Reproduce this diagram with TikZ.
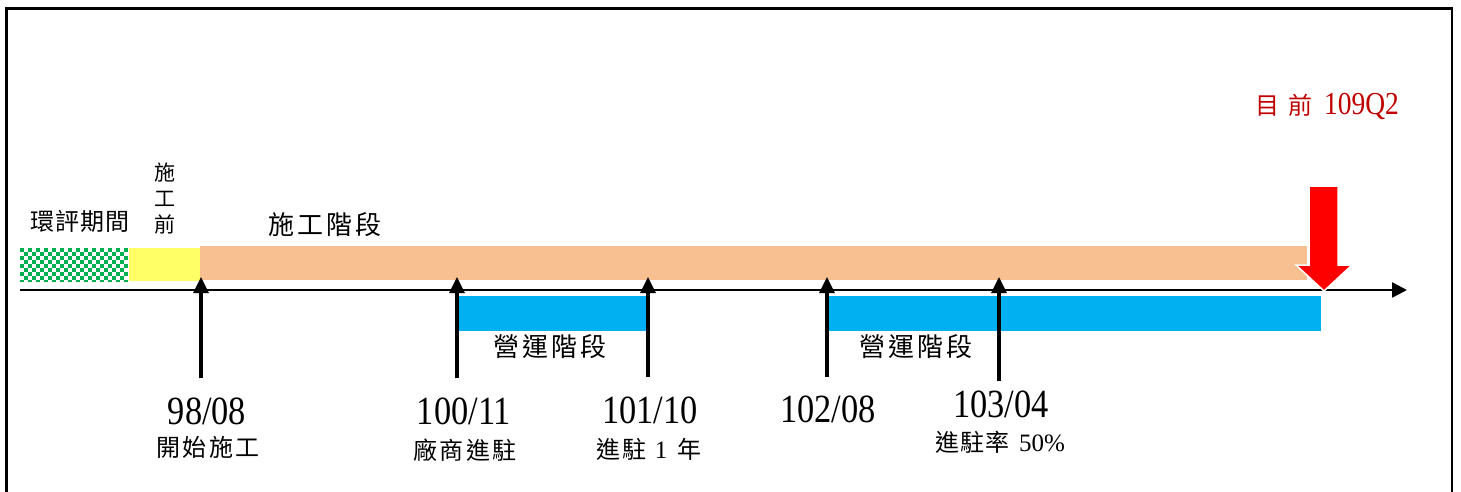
\documentclass[tikz,border=0pt]{standalone}
\usepackage{fontspec}
\setmainfont{Liberation Serif}
\newfontfamily\cjk{Noto Sans CJK TC}
\newfontfamily\datefont[FakeStretch=0.86]{Liberation Serif}
\usetikzlibrary{arrows.meta}
\definecolor{evgreen}{RGB}{0,176,80}
\definecolor{preyellow}{RGB}{255,255,102}
\definecolor{conorange}{RGB}{248,192,144}
\definecolor{opblue}{RGB}{0,176,240}
\definecolor{nowred}{RGB}{192,0,0}
\tikzset{
  lbl/.style={inner sep=0pt, anchor=center},
  datelbl/.style={lbl, font=\datefont\fontsize{40}{44}\selectfont},
  cjklbl/.style={lbl, font=\cjk\fontsize{24}{28}\selectfont},
  phase/.style={lbl, font=\cjk\fontsize{26}{30}\selectfont},
  tickarrow/.style={line width=3.2pt, -{Triangle[length=16pt,width=15pt]}},
}
\begin{document}
\begin{tikzpicture}[x=1pt,y=-1pt]
\clip (0,0) rectangle (1461,491);
\fill[white] (0,0) rectangle (1461,491);
% frame
\draw[line width=2.5pt] (6.5,8.3) rectangle (1452,520);
% EIA checkerboard
\begin{scope}
\clip (20,248) rectangle (128,281);
\fill[white] (20,248) rectangle (128,281);
\foreach \i in {0,...,26} {
  \foreach \j in {0,...,8} {
    \pgfmathtruncatemacro{\cbpar}{mod(\i+\j,2)}
    \ifnum\cbpar=0
      \fill[evgreen] (20+4*\i,248+4*\j) rectangle ++(4,4);
    \fi
  }
}
\end{scope}
% bars
\fill[preyellow] (129,248) rectangle (200,281);
\fill[conorange] (200,246) rectangle (1307,280);
\fill[opblue] (457,296) rectangle (646,331);
\fill[opblue] (827,296) rectangle (1321,331);
% axis
\coordinate (ax0) at (20,290);
\coordinate (ax1) at (1407,290);
\draw[line width=2.5pt, -{Triangle[length=15pt,width=15pt]}] (ax0) -- (ax1);
% tick arrows
\coordinate (t1b) at (201,378); \coordinate (t1t) at (201,277);
\coordinate (t2b) at (457,378); \coordinate (t2t) at (457,277);
\coordinate (t3b) at (648,377); \coordinate (t3t) at (648,277);
\coordinate (t4b) at (827,377); \coordinate (t4t) at (827,277);
\coordinate (t5b) at (999,381); \coordinate (t5t) at (999,277);
\draw[tickarrow] (t1b) -- (t1t);
\draw[tickarrow] (t2b) -- (t2t);
\draw[tickarrow] (t3b) -- (t3t);
\draw[tickarrow] (t4b) -- (t4t);
\draw[tickarrow] (t5b) -- (t5t);
% red "now" arrow
\draw[white, line width=1.5pt, fill=red] (1309,186) -- (1338,186) -- (1338,265) -- (1352,265) -- (1324,291) -- (1296,265) -- (1309,265) -- cycle;
% labels
\node[lbl, text=nowred] (now) at (1327,106) {{\cjk\fontsize{24}{28}\selectfont 目\hspace{9pt}前}\hspace{12pt}{\datefont\fontsize{32}{36}\selectfont 109Q2}};
\node[cjklbl] (eia) at (80,221) {環\hspace{1.3pt}評\hspace{1.3pt}期\hspace{1.3pt}間};
\node[lbl, font=\cjk\fontsize{21}{24}\selectfont, align=center] (pre) at (165,199) {施\\[2pt]工\\[2pt]前};
\node[phase] (con) at (325,225) {施\hspace{3pt}工\hspace{3pt}階\hspace{3pt}段};
\node[phase] (op1) at (550,347) {營\hspace{3pt}運\hspace{3pt}階\hspace{3pt}段};
\node[phase] (op2) at (916,347) {營\hspace{3pt}運\hspace{3pt}階\hspace{3pt}段};
\node[datelbl] (d1) at (207,411) {98/08};
\node[cjklbl] (c1) at (208,447) {開\hspace{2.5pt}始\hspace{2.5pt}施\hspace{2.5pt}工};
\node[datelbl] (d2) at (464,411) {100/11};
\node[cjklbl] (c2) at (465,450) {廠\hspace{2.5pt}商\hspace{2.5pt}進\hspace{2.5pt}駐};
\node[datelbl] (d3) at (650,410) {101/10};
\node[cjklbl] (c3) at (649,449) {進\hspace{2pt}駐\hspace{8pt}{\rmfamily\fontsize{25}{28}\selectfont 1}\hspace{10pt}年};
\node[datelbl] (d4) at (828,409) {102/08};
\node[datelbl] (d5) at (1001,404) {103/04};
\node[cjklbl] (c5) at (1000,442) {進\hspace{1pt}駐\hspace{1pt}率\hspace{10pt}{\rmfamily\fontsize{25}{28}\selectfont 50\%}};
\end{tikzpicture}
\end{document}
